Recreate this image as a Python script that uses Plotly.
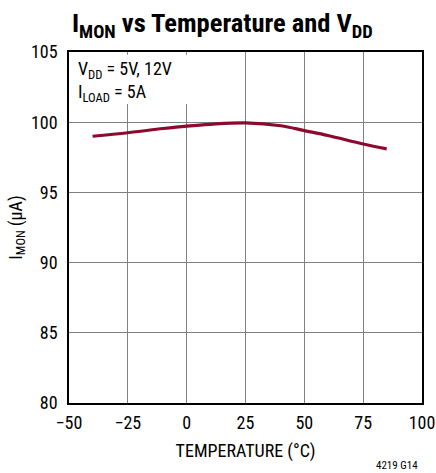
import plotly.graph_objects as go

temps = [-40, -25, -10, 0, 10, 25, 40, 50, 60, 75, 85]
imon = [99.0, 99.25, 99.55, 99.72, 99.85, 99.95, 99.75, 99.4, 99.05, 98.45, 98.1]

x_ticks = [-50, -25, 0, 25, 50, 75, 100]
x_labels = ["\u221250", "\u221225", "0", "25", "50", "75", "100"]
y_ticks = [80, 85, 90, 95, 100, 105]

FONT = "Liberation Sans Narrow, Roboto Condensed, Arial Narrow, Liberation Sans, sans-serif"

fig = go.Figure()
fig.add_trace(go.Scatter(x=temps, y=imon, mode="lines",
                         line=dict(color="#8c0a2d", width=3.2, shape="spline"),
                         showlegend=False))

fig.update_layout(
    width=436, height=473,
    margin=dict(l=69, r=14, t=52, b=70),
    paper_bgcolor="white", plot_bgcolor="white",
    font=dict(family=FONT, color="black", size=18),
    title=dict(text="<b>I<sub>MON</sub> vs Temperature and V<sub>DD</sub></b>",
               x=0.51, xanchor="center", y=0.952, yanchor="middle",
               font=dict(size=26.5, family=FONT)),
    xaxis=dict(range=[-50, 100], tickvals=x_ticks, ticktext=x_labels,
               showgrid=True, gridcolor="#808080", gridwidth=1,
               showline=True, linecolor="black", linewidth=1.5, mirror=True,
               ticks="", zeroline=False, automargin=False, ticklabelstandoff=3,
               title=dict(text="TEMPERATURE (°C)", standoff=12, font=dict(size=18)),
               tickfont=dict(size=18)),
    yaxis=dict(range=[80, 105], tickvals=y_ticks,
               showgrid=True, gridcolor="#808080", gridwidth=1,
               showline=True, linecolor="black", linewidth=1.5, mirror=True,
               ticks="", zeroline=False, automargin=False, ticklabelstandoff=6,
               title=dict(text="I<sub>MON</sub> (µA)", standoff=4, font=dict(size=18)),
               tickfont=dict(size=18)),
)

fig.add_shape(type="rect", xref="x", yref="y", x0=-49.7, x1=20, y0=101.3, y1=104.8,
              fillcolor="white", line=dict(width=0), layer="between")

fig.add_annotation(text="V<sub>DD</sub> = 5V, 12V<br>I<sub>LOAD</sub> = 5A",
                   xref="paper", yref="paper", x=0.02, y=0.99,
                   xanchor="left", yanchor="top", align="left", showarrow=False,
                   font=dict(size=18, family=FONT))

fig.add_annotation(text="4219 G14", xref="paper", yref="paper",
                   x=0.995, y=-0.155, xanchor="right", yanchor="top",
                   showarrow=False, font=dict(size=11, family=FONT))

fig.write_html("out.html", config={"displayModeBar": False})

with open("out.html", "r", encoding="utf-8") as f:
    html = f.read()
html = html.replace("<head>", "<head><style>html,body{margin:0;padding:0;overflow:hidden;}</style>", 1)
with open("out.html", "w", encoding="utf-8") as f:
    f.write(html)
